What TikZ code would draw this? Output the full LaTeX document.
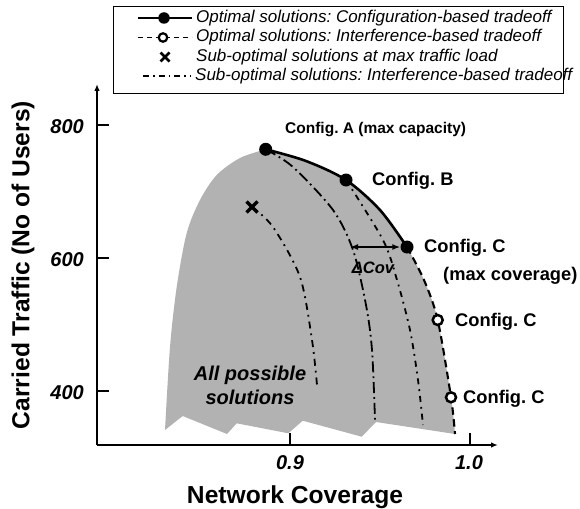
\documentclass[tikz,border=0pt]{standalone}
\usepackage{fontspec}
\setmainfont{Liberation Sans}
\usetikzlibrary{arrows.meta,calc}
\definecolor{regiongray}{RGB}{178,178,178}
\tikzset{
  x=1pt, y=-1pt,
  axisline/.style={line width=1.9pt, -{Latex[length=7pt,width=5.5pt]}},
  tickline/.style={line width=1.3pt},
  optline/.style={line width=2.6pt},
  dashopt/.style={line width=2.1pt, dash pattern=on 7.5pt off 4.5pt},
  dd1/.style={line width=1.8pt, dash pattern=on 11pt off 4pt on 1.8pt off 4pt},
  dd2/.style={line width=1.8pt, dash pattern=on 6pt off 5pt on 1.8pt off 5pt},
  dd3/.style={line width=1.8pt, dash pattern=on 7pt off 5pt on 1.8pt off 5pt},
  fdot/.style={circle, fill=black, inner sep=0pt, minimum size=13pt},
  odot/.style={circle, draw=black, fill=white, line width=2.5pt, inner sep=0pt, minimum size=10pt},
  ldot/.style={circle, fill=black, inner sep=0pt, minimum size=11.5pt},
  lodot/.style={circle, draw=black, fill=white, line width=2.2pt, inner sep=0pt, minimum size=8.5pt},
  cfglabel/.style={anchor=west, inner sep=0pt, font=\fontsize{18.3}{20}\selectfont\bfseries},
  ticklabel/.style={inner sep=0pt, font=\fontsize{20}{22}\selectfont\bfseries\itshape},
  axistitle/.style={inner sep=0pt, font=\fontsize{24.6}{27}\selectfont\bfseries},
  legtext/.style={anchor=west, inner sep=0pt, font=\fontsize{17}{18}\selectfont\itshape},
  xmark/.style={line width=3.2pt},
}
\begin{document}
\frenchspacing
\begin{tikzpicture}
\useasboundingbox (0,0) rectangle (580,508);

% key points
\coordinate (A) at (265.7,149.3);
\coordinate (B) at (346,180);
\coordinate (C) at (407,247);
\coordinate (O1) at (437.7,320);
\coordinate (O2) at (451,397.3);
\coordinate (X) at (252,207);

% gray region
\fill[regiongray] plot[smooth] coordinates {(A) (306,161) (B) (380,210) (C)}
  -- plot[smooth] coordinates {(C) (424,280) (O1) (O2) (455,434)}
  -- (376,422) -- (361.7,436.7) -- (302.7,420.7) -- (288.3,433.3)
  -- (236.7,423.3) -- (227,434) -- (182.7,416) -- (165,430)
  -- plot[smooth] coordinates {(165,430) (170,347) (176.7,287) (186.7,233) (200,200) (216.7,175) (240,158) (A)}
  -- cycle;

% axes
\coordinate (origin) at (97,445);
\coordinate (ytop) at (97,84);
\coordinate (xend) at (498,445);
\draw[axisline] (origin) -- (ytop);
\draw[axisline] (origin) -- (xend);
\foreach \yy/\lab in {125/800, 258/600, 391/400}{
  \coordinate (yt\lab) at (97,\yy);
  \draw[tickline] (yt\lab) -- ++(12,0);
  \node[ticklabel, anchor=east] (ytl\lab) at (84,\yy+2) {\lab};
}
\foreach \xx/\lab in {290/09, 470/10}{
  \coordinate (xt\lab) at (\xx,445);
  \draw[tickline] (xt\lab) -- ++(0,-12);
}
\node[ticklabel] (xtl09) at (290,463) {0.9};
\node[ticklabel] (xtl10) at (469,463) {1.0};
\node[axistitle, anchor=base] (xtitle) at (295,503) {Network Coverage};
\node[axistitle, rotate=90] (ytitle) at (23,265) {Carried Traffic (No of Users)};

% dash-dot curves
\draw[dd1] plot[smooth] coordinates {(A) (293,167) (333,210) (353,250) (366,305) (372,350) (375,420)};
\draw[dd2] plot[smooth] coordinates {(B) (383,240) (397,280) (410,330) (418,380) (423,425)};
\draw[dd3] plot[smooth] coordinates {(X) (273,227) (300,277) (312,340) (317,385)};

% optimal curves
\draw[optline] plot[smooth] coordinates {(A) (306,161) (B) (380,210) (C)};
\draw[dashopt] plot[smooth] coordinates {(C) (424,280) (O1) (O2) (455,434)};

% markers
\node[fdot] (nA) at (A) {};
\node[fdot] (nB) at (B) {};
\node[fdot] (nC) at (C) {};
\node[odot] (nO1) at (O1) {};
\node[odot] (nO2) at (O2) {};
\draw[xmark] ($(X)+(-5.5,-5.5)$) -- ($(X)+(5.5,5.5)$);
\draw[xmark] ($(X)+(-5.5,5.5)$) -- ($(X)+(5.5,-5.5)$);

% delta coverage arrow
\coordinate (d1) at (350,247);
\draw[line width=1.9pt, {Latex[length=8pt,width=6pt]}-{Latex[length=8pt,width=6pt]}] (d1) -- (nC);
\node[inner sep=0pt, font=\fontsize{16.5}{18}\selectfont\bfseries\itshape] (dcov) at (373,268) {ΔCov};

% labels
\node[cfglabel, font=\fontsize{15.5}{18}\selectfont\bfseries] (lA) at (285,130) {Config. A (max capacity)};
\node[cfglabel] (lB) at (372,181) {Config. B};
\node[cfglabel] (lC) at (424,248) {Config. C};
\node[cfglabel] (lC2) at (443,276) {(max coverage)};
\node[cfglabel] (lO1) at (455,322) {Config. C};
\node[cfglabel] (lO2) at (463,399) {Config. C};
\node[inner sep=0pt, align=center, font=\fontsize{20}{24}\selectfont\bfseries\itshape] (allsol) at (250,385) {All possible\\solutions};

% legend
\node[draw=black, line width=1pt, minimum width=450pt, minimum height=87pt, inner sep=0pt, anchor=north west] (legbox) at (113,6) {};
\coordinate (l1a) at (138,18); \coordinate (l1b) at (192,18);
\draw[optline, line width=2.2pt] (l1a) -- (l1b);
\node[ldot] (l1d) at (164,18) {};
\node[legtext] (t1) at (196,18) {Optimal solutions: Configuration-based tradeoff};
\coordinate (l2a) at (138,37.5); \coordinate (l2b) at (192,37.5);
\draw[line width=1.6pt, dash pattern=on 5pt off 4pt] (l2a) -- (l2b);
\node[lodot] (l2d) at (163,37.5) {};
\node[legtext] (t2) at (196,37.5) {Optimal solutions: Interference-based tradeoff};
\coordinate (lx) at (165,57);
\draw[xmark, line width=2.8pt] ($(lx)+(-4.5,-4.5)$) -- ($(lx)+(4.5,4.5)$);
\draw[xmark, line width=2.8pt] ($(lx)+(-4.5,4.5)$) -- ($(lx)+(4.5,-4.5)$);
\node[legtext] (t3) at (196,57) {Sub-optimal solutions at max traffic load};
\coordinate (l4a) at (143,76); \coordinate (l4b) at (191,76);
\draw[line width=1.3pt, dash pattern=on 6pt off 4pt on 1.5pt off 4pt] (l4a) -- (l4b);
\node[legtext] (t4) at (195,76) {Sub-optimal solutions: Interference-based tradeoff};
\end{tikzpicture}
\end{document}
